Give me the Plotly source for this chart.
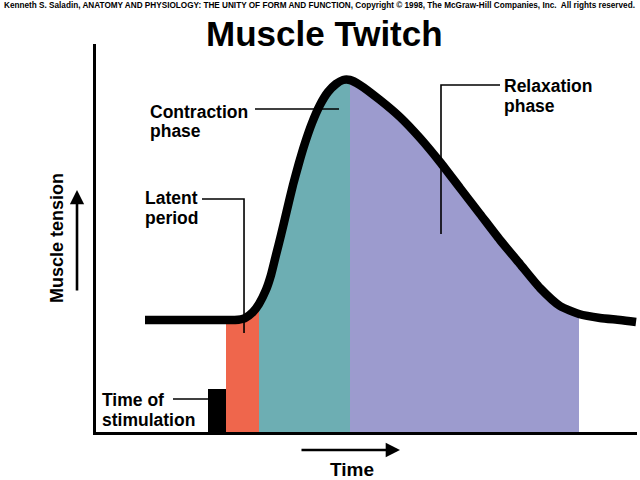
import plotly.graph_objects as go

# ---- data (time and tension in arbitrary units, 0..100) ----
curve_t = [9.06, 24.03, 25.69, 27.54, 29.02, 30.13, 31.42, 32.35, 33.27, 34.20, 35.30, 36.41,
           37.52, 38.63, 39.93, 41.40, 42.88, 44.36, 45.66, 46.95, 48.80, 52.50, 56.19, 59.89,
           63.59, 67.28, 70.98, 74.68, 78.37, 82.07, 85.77, 89.28, 93.16, 96.86, 99.82]
curve_T = [28.87, 28.87, 28.87, 29.38, 30.93, 32.99, 36.60, 40.46, 45.62, 50.77, 57.22, 63.66,
           69.33, 74.48, 79.64, 84.28, 87.63, 89.69, 90.72, 90.72, 89.43, 85.57, 81.19, 75.77,
           69.59, 62.89, 56.19, 49.48, 43.30, 37.11, 32.47, 30.41, 29.38, 28.87, 28.35]

# phase boundaries (index into curve arrays)
phase_names = ["Latent period", "Contraction phase", "Relaxation phase"]
phase_start = [1, 5, 19]
phase_end = [5, 19, 31]
phase_colors = ["#EF664C", "#6DAEB3", "#9C9BCE"]

stim_t = [22.37]
stim_width = [3.33]
stim_height = [11.08]

title_text = "Muscle Twitch"
credit_text = ("Kenneth S. Saladin, ANATOMY AND PHYSIOLOGY: THE UNITY OF FORM AND FUNCTION, "
               "Copyright \u00a9 1998, The McGraw-Hill Companies, Inc.  All rights reserved.")

# label lines: (text, t_left, T_mid)
label_text = ["Contraction", "phase", "Latent", "period", "Relaxation", "phase", "Time of", "stimulation"]
label_t = [9.80, 9.80, 8.87, 8.87, 75.23, 75.23, 0.92, 0.92]
label_T = [82.60, 77.45, 60.20, 55.05, 89.05, 83.90, 8.20, 3.05]

# leader lines (polyline per label)
leader_t = [[29.39, 44.92], [19.59, 27.36, 27.36], [74.68, 63.77, 63.77], [14.23, 20.70]]
leader_T = [[83.25, 83.25], [60.05, 60.05, 25.52], [89.43, 89.43, 51.03], [8.50, 8.50]]

fig = go.Figure()

for name, s, e, c in zip(phase_names, phase_start, phase_end, phase_colors):
    fig.add_trace(go.Scatter(x=curve_t[s:e + 1], y=curve_T[s:e + 1], mode="lines",
                             line=dict(width=0, color=c, shape="spline", smoothing=0.6),
                             fill="tozeroy", fillcolor=c, name=name, hoverinfo="skip"))

fig.add_trace(go.Bar(x=stim_t, y=stim_height, width=stim_width, marker=dict(color="black", line=dict(width=0)),
                     name="Time of stimulation"))

fig.add_trace(go.Scatter(x=curve_t, y=curve_T, mode="lines",
                         line=dict(color="black", width=8.5, shape="spline", smoothing=0.6),
                         name="Muscle tension"))

for lt, lT in zip(leader_t, leader_T):
    fig.add_trace(go.Scatter(x=lt, y=lT, mode="lines", line=dict(color="black", width=1.6),
                             hoverinfo="skip"))

font_b = "Liberation Sans, Arial, sans-serif"
for txt, tx, ty in zip(label_text, label_t, label_T):
    fig.add_annotation(x=tx, y=ty, xref="x", yref="y", text="<b>" + txt + "</b>", showarrow=False,
                       xanchor="left", yanchor="middle", borderpad=0,
                       font=dict(size=17.5, color="black", family=font_b))

# texts outside the axes box: paper coordinates (plot area = 0..1)
fig.add_annotation(x=0.414, y=1.098, xref="paper", yref="paper", text="<b>" + credit_text + "</b>",
                   showarrow=False, xanchor="center", yanchor="middle",
                   font=dict(size=8.2, color="black", family=font_b))
fig.add_annotation(x=0.423, y=1.028, xref="paper", yref="paper", text="<b>" + title_text + "</b>",
                   showarrow=False, xanchor="center", yanchor="middle",
                   font=dict(size=35, color="black", family=font_b))
fig.add_annotation(x=-0.0721, y=0.50, xref="paper", yref="paper", text="<b>Muscle tension</b>",
                   showarrow=False, textangle=-90, xanchor="center", yanchor="middle",
                   font=dict(size=18, color="black", family=font_b))
fig.add_annotation(x=0.4732, y=-0.0979, xref="paper", yref="paper", text="<b>Time</b>",
                   showarrow=False, xanchor="center", yanchor="middle",
                   font=dict(size=19, color="black", family=font_b))

# arrows
fig.add_annotation(x=-0.0351, y=0.6237, xref="paper", yref="paper", ax=0, ay=102,
                   text="", showarrow=True, arrowhead=2, arrowsize=1.1, arrowwidth=2.6, arrowcolor="black")
fig.add_annotation(x=0.5619, y=-0.0464, xref="paper", yref="paper", ax=-100, ay=0,
                   text="", showarrow=True, arrowhead=2, arrowsize=1.1, arrowwidth=2.6, arrowcolor="black")

fig.update_layout(
    width=640, height=480,
    margin=dict(l=96, r=3, t=44, b=48),
    paper_bgcolor="white", plot_bgcolor="white",
    showlegend=False,
    bargap=0,
    xaxis=dict(range=[0, 100], showgrid=False, zeroline=False, showticklabels=False, ticks="",
               showline=True, linecolor="black", linewidth=3, fixedrange=True),
    yaxis=dict(range=[0, 100], showgrid=False, zeroline=False, showticklabels=False, ticks="",
               showline=True, linecolor="black", linewidth=3, fixedrange=True),
)

fig.write_html("out.html")
